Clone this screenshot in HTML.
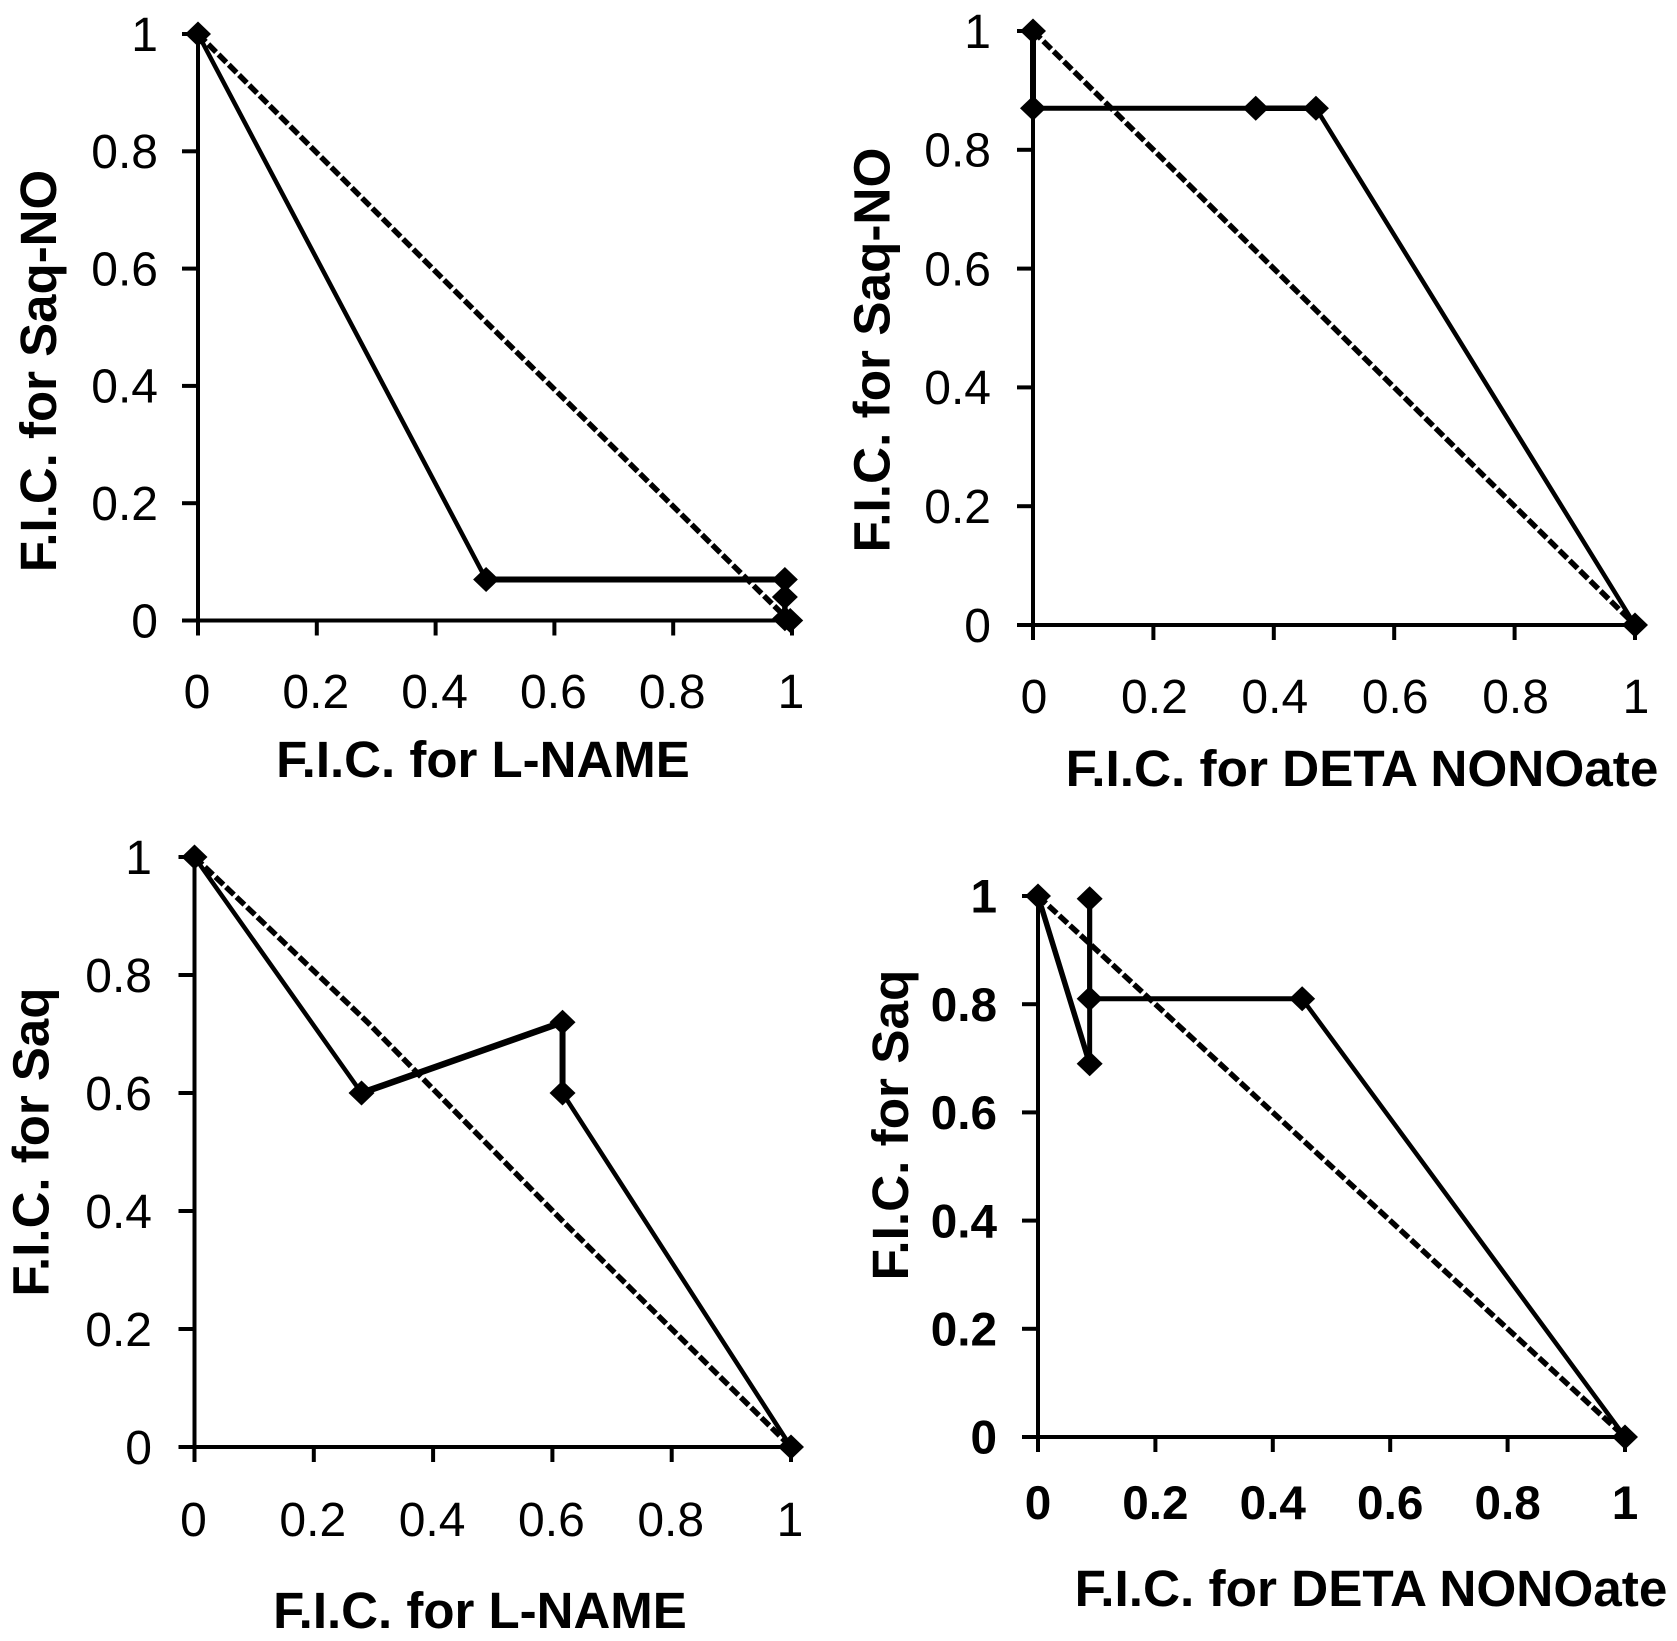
<!DOCTYPE html>
<html lang="en">
<head>
<meta charset="utf-8">
<title>F.I.C. isobolograms</title>
<style>
html,body{margin:0;padding:0;background:#fff;width:1677px;height:1641px;overflow:hidden}
svg{display:block}
text{font-family:"Liberation Sans",Arial,sans-serif;fill:#000}
</style>
</head>
<body>
<svg id="chart" xmlns="http://www.w3.org/2000/svg" width="1677" height="1641" viewBox="0 0 1677 1641"></svg>
<script>
const tickValues = [0, 0.2, 0.4, 0.6, 0.8, 1];
const tickLabels = ['0', '0.2', '0.4', '0.6', '0.8', '1'];

const saqNoLnameX = [0, 0.485, 0.988, 0.988, 0.988, 0.997];
const saqNoLnameY = [1, 0.07, 0.07, 0.04, 0.003, 0];
const saqNoLnameRefX = [0, 0.482, 0.995];
const saqNoLnameRefY = [1, 0.512, 0];

const saqNoDetaX = [0, 0, 0.37, 0.47, 1];
const saqNoDetaY = [1, 0.87, 0.87, 0.87, 0];
const saqNoDetaRefX = [0, 0.47, 1];
const saqNoDetaRefY = [1, 0.53, 0];

const saqLnameX = [0, 0.28, 0.617, 0.617, 1];
const saqLnameY = [1, 0.6, 0.72, 0.6, 0];
const saqLnameRefX = [0, 0.29, 0.62, 1];
const saqLnameRefY = [1, 0.72, 0.38, 0];

const saqDetaX = [0, 0.088, 0.088, 0.088, 0.45, 1];
const saqDetaY = [1, 0.69, 0.995, 0.81, 0.81, 0];
const saqDetaRefX = [0, 0.45, 1];
const saqDetaRefY = [1, 0.55, 0];

const svg = document.getElementById('chart');
const NS = 'http://www.w3.org/2000/svg';

function make(tag, attrs, parent) {
  const el = document.createElementNS(NS, tag);
  for (const k in attrs) el.setAttribute(k, attrs[k]);
  parent.appendChild(el);
  return el;
}

function drawPanel(cfg) {
  const g = make('g', {}, svg);
  
  
  const sx = v => cfg.x0 + (cfg.x1 - cfg.x0) * v;
  const sy = v => cfg.y0 + (cfg.y1 - cfg.y0) * v;

  const yAxis = make('line', {x1: sx(0), x2: sx(0), y1: sy(1), y2: sy(0) + 15, stroke: '#000', 'stroke-width': 4}, g);
  
  
  const xAxis = make('line', {x1: sx(0) - 16, x2: sx(1), y1: sy(0), y2: sy(0), stroke: '#000', 'stroke-width': 4}, g);
  
  

  const weight = cfg.boldTicks ? 'bold' : 'normal';
  tickValues.forEach((v, i) => {
    const xt = make('line', {x1: sx(v), x2: sx(v), y1: sy(0), y2: sy(0) + 15, stroke: '#000', 'stroke-width': 4}, g);
    
    
    const yt = make('line', {x1: sx(0) - 16, x2: sx(0), y1: sy(v), y2: sy(v), stroke: '#000', 'stroke-width': 4}, g);
    
    
    const xl = make('text', {x: sx(v) + cfg.xLabelShift, y: cfg.xLabelY, 'text-anchor': 'middle', 'font-size': cfg.tickSize, 'font-weight': weight}, g);
    xl.textContent = tickLabels[i];
    
    
    const yl = make('text', {x: cfg.yLabelX, y: sy(v) + cfg.tickSize * 0.35, 'text-anchor': 'end', 'font-size': cfg.tickSize, 'font-weight': weight}, g);
    yl.textContent = tickLabels[i];
    
    
  });

  const refPts = cfg.refX.map((v, i) => sx(v) + ',' + sy(cfg.refY[i])).join(' ');
  const ref = make('polyline', {points: refPts, fill: 'none', stroke: '#000', 'stroke-width': 5.5, 'stroke-dasharray': '11 3.5'}, g);
  
  

  cfg.dataX.slice(1).forEach((v, i) => {
    const seg = make('line', {x1: sx(cfg.dataX[i]), y1: sy(cfg.dataY[i]), x2: sx(v), y2: sy(cfg.dataY[i + 1]), stroke: '#000', 'stroke-width': cfg.segWidths[i], 'stroke-linecap': 'round'}, g);
    
    
  });

  cfg.dataX.forEach((v, i) => {
    const cx = sx(v), cy = sy(cfg.dataY[i]), rx = 13, ry = 12.5;
    const d = make('polygon', {points: [cx, cy - ry, cx + rx, cy, cx, cy + ry, cx - rx, cy].join(' '), fill: '#000'}, g);
    
    
  });

  const xTitle = make('text', {x: cfg.xTitleX, y: cfg.xTitleY, 'text-anchor': 'middle', 'font-size': cfg.titleSize, 'font-weight': 'bold'}, g);
  xTitle.textContent = cfg.xTitle;
  
  
  const yTitle = make('text', {x: 0, y: 0, transform: 'translate(' + cfg.yTitleX + ' ' + cfg.yTitleY + ') rotate(-90)', 'text-anchor': 'middle', 'font-size': cfg.titleSize, 'font-weight': 'bold'}, g);
  yTitle.textContent = cfg.yTitle;
  
  
}

drawPanel({name: 'panel-saq-no-vs-l-name', x0: 198, x1: 792, y0: 620.5, y1: 34,
  dataX: saqNoLnameX, dataY: saqNoLnameY, refX: saqNoLnameRefX, refY: saqNoLnameRefY,
  segWidths: [4.5, 6, 5.5, 5.5, 5],
  tickSize: 48, titleSize: 51, xLabelShift: -1, xLabelY: 708, yLabelX: 158,
  xTitle: 'F.I.C. for L-NAME', xTitleX: 483, xTitleY: 777,
  yTitle: 'F.I.C. for Saq-NO', yTitleX: 56, yTitleY: 371});

drawPanel({name: 'panel-saq-no-vs-deta-nonoate', x0: 1033, x1: 1635, y0: 625, y1: 31,
  dataX: saqNoDetaX, dataY: saqNoDetaY, refX: saqNoDetaRefX, refY: saqNoDetaRefY,
  segWidths: [6, 5, 5.5, 4.5],
  tickSize: 48, titleSize: 51.3, xLabelShift: 1, xLabelY: 713, yLabelX: 991,
  xTitle: 'F.I.C. for DETA NONOate', xTitleX: 1362, xTitleY: 786,
  yTitle: 'F.I.C. for Saq-NO', yTitleX: 889.5, yTitleY: 350});

drawPanel({name: 'panel-saq-vs-l-name', x0: 194.5, x1: 791, y0: 1447, y1: 857,
  dataX: saqLnameX, dataY: saqLnameY, refX: saqLnameRefX, refY: saqLnameRefY,
  segWidths: [4.5, 6.5, 6, 4.5],
  tickSize: 48, titleSize: 51, xLabelShift: -1, xLabelY: 1536, yLabelX: 152,
  xTitle: 'F.I.C. for L-NAME', xTitleX: 480, xTitleY: 1628,
  yTitle: 'F.I.C. for Saq', yTitleX: 48.5, yTitleY: 1142});

drawPanel({name: 'panel-saq-vs-deta-nonoate', x0: 1038, x1: 1625, y0: 1437, y1: 896,
  dataX: saqDetaX, dataY: saqDetaY, refX: saqDetaRefX, refY: saqDetaRefY,
  segWidths: [5.5, 5, 5, 5, 4.5],
  tickSize: 47.7, boldTicks: true, titleSize: 51.3, xLabelShift: 0, xLabelY: 1519, yLabelX: 997,
  xTitle: 'F.I.C. for DETA NONOate', xTitleX: 1371, xTitleY: 1606,
  yTitle: 'F.I.C. for Saq', yTitleX: 908, yTitleY: 1125});
</script>
</body>
</html>
